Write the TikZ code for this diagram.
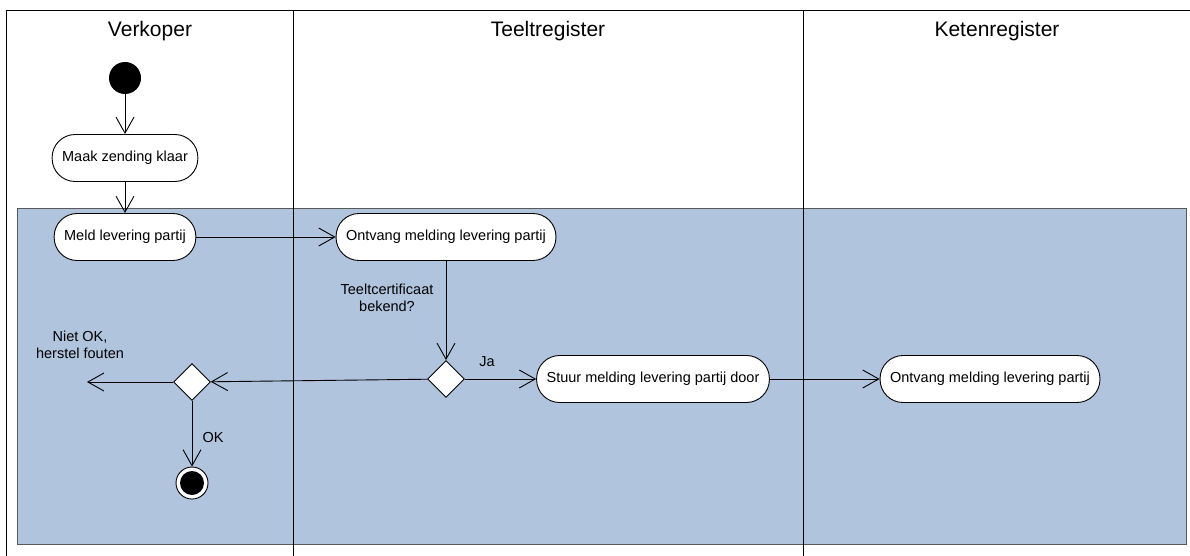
\documentclass[tikz,border=0pt]{standalone}
\usepackage{fontspec}
\setmainfont{Liberation Sans}
\usetikzlibrary{arrows.meta,shapes.geometric,positioning}
\definecolor{laneblue}{RGB}{176,196,222}

\begin{document}
\begin{tikzpicture}[x=1pt, y=-1pt,
    activity/.style={draw, line width=0.9pt, fill=white, rounded corners=23pt, minimum height=47pt, inner xsep=10pt, font=\fontsize{14.5}{17.5}\selectfont},
    decision/.style={draw, line width=0.9pt, fill=white, diamond, minimum size=37pt, inner sep=0pt},
    flow/.style={-{Straight Barb[length=16pt, width=18pt]}, line width=0.9pt},
    lbl/.style={align=center, font=\fontsize{14.5}{17.5}\selectfont},
    lanetitle/.style={font=\fontsize{21}{25}\selectfont}]
    % Define the sizes
    \def\r{16pt} % radius of start and end
    
    \useasboundingbox (0,0) rectangle (1190,556);
    
    % Draw the shaded region
    \filldraw[fill=laneblue, draw=black!65, line width=0.8pt] (17,208) rectangle (1186,544);
    
    % Draw the swimlanes
    \draw[line width=0.9pt] (6,556) -- (6,10) -- (1190,10);
    \draw[line width=0.9pt] (293,10) -- (293,556);
    \draw[line width=0.9pt] (803,10) -- (803,556);
    \node[lanetitle] (verkoper) at (150,31) {Verkoper};
    \node[lanetitle] (teelt) at (548,31) {Teeltregister};
    \node[lanetitle] (keten) at (997,31) {Ketenregister};
    
    % Draw the activities
    \node[circle, fill=black, minimum size=2*\r, inner sep=0pt] (start) at (125,78) {};
    \node[activity] (maak) at (125,158) {Maak zending klaar};
    \node[activity] (meld) at (125,237) {Meld levering partij};
    \node[activity] (ontvangT) at (446,237) {Ontvang melding levering partij};
    \node[decision] (bekend) at (446,379) {};
    \node[activity] (stuur) at (653,379) {Stuur melding levering partij door};
    \node[activity] (ontvangK) at (990,379) {Ontvang melding levering partij};
    \node[decision] (check) at (192,382) {};
    \coordinate (herstel) at (87,382);
    \node[circle, draw, line width=0.9pt, fill=white, minimum size=2*\r, inner sep=0pt] (stop) at (192,483) {};
    \fill (stop.center) circle (12pt);
    
    % Draw the flows
    \draw[flow] (start) -- (maak);
    \draw[flow] (maak) -- (meld);
    \draw[flow] (meld) -- (ontvangT);
    \draw[flow] (ontvangT) -- (bekend);
    \draw[flow] (bekend) -- (stuur);
    \draw[flow] (stuur) -- (ontvangK);
    \draw[flow] (bekend) -- (check);
    \draw[flow] (check) -- (herstel);
    \draw[flow] (check) -- (stop);
    
    % Draw the guards
    \node[lbl] (vraag) at (387,298) {Teeltcertificaat\\bekend?};
    \node[lbl] (ja) at (487,362) {Ja};
    \node[lbl] (nietok) at (80,345) {Niet OK,\\herstel fouten};
    \node[lbl] (ok) at (213,438) {OK};
\end{tikzpicture}
\end{document}
